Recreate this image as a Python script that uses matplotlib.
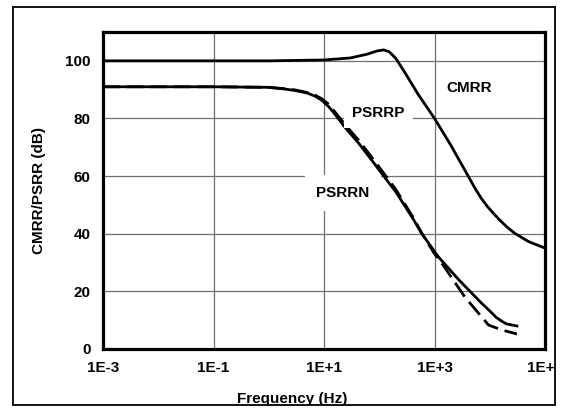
import matplotlib
matplotlib.use('Agg')
import matplotlib.pyplot as plt
from matplotlib.patches import Rectangle

plt.rcParams['font.family'] = ['Liberation Sans', 'DejaVu Sans']
plt.rcParams['font.weight'] = 'bold'

# CMRR curve (Hz, dB)
cmrr_freq = [1e-3, 1e-1, 1, 10, 30, 60, 90, 120, 150, 200, 300, 500, 1000,
             2000, 4200, 5500, 7000, 9000, 12000, 15000, 20000, 28000, 50000,
             100000]
cmrr_db = [100, 100, 100, 100.3, 101, 102.3, 103.4, 103.8, 103.2, 100.8, 95.5,
           88.5, 80, 70.5, 59.5, 55.5, 52.3, 49.5, 46.8, 44.8, 42.5, 40.2, 37.3,
           35]

# PSRR positive supply (solid)
psrrp_freq = [1e-3, 0.1, 1, 2, 3, 5, 7, 9, 12, 15, 18, 25, 33, 42, 70, 110, 200,
              420, 580, 1170, 2750, 7000, 10000, 13000, 16600, 20000, 31000]
psrrp_db = [91, 91, 90.8, 90.2, 89.7, 88.8, 87.7, 86.4, 84.2, 82, 80, 76.5, 73.8,
            71.5, 66, 61, 54.5, 44.8, 40.2, 32, 24, 16, 13.2, 11, 9.6, 8.7, 8]

# PSRR negative supply (dashed)
psrrn_freq = [1e-3, 0.1, 1, 2, 3, 5, 7, 9, 12, 15, 18, 25, 33, 42, 70, 110, 200,
              420, 580, 1000, 1350, 3550, 9500, 16600, 31000]
psrrn_db = [91, 91, 90.8, 90.3, 89.9, 89, 88, 86.9, 85, 82.8, 80.8, 77.5, 74.8,
            72.5, 67, 62, 55.3, 45.3, 40.4, 33, 29.8, 18, 8.3, 6.6, 5.2]

x_ticks = [1e-3, 1e-1, 1e1, 1e3, 1e5]
x_tick_labels = ['1E-3', '1E-1', '1E+1', '1E+3', '1E+5']
y_ticks = [0, 20, 40, 60, 80, 100]

fig = plt.figure(figsize=(5.66, 4.09), dpi=100)
ax = fig.add_axes([0.182, 0.1467, 0.781, 0.775])

# outer frame
frame = Rectangle((0.023, 0.0098), 0.9576, 0.9734, transform=fig.transFigure,
                  fill=False, edgecolor='black', linewidth=1.3, zorder=10)
fig.patches.append(frame)

ax.plot(cmrr_freq, cmrr_db, color='black', lw=2, zorder=3)
ax.plot(psrrp_freq, psrrp_db, color='black', lw=2, zorder=3)
ax.plot(psrrn_freq, psrrn_db, color='black', lw=2, dashes=(6, 2.5), zorder=3)

ax.set_xscale('log')
ax.set_xlim(1e-3, 1e5)
ax.set_ylim(0, 110)
ax.set_xticks(x_ticks)
ax.set_xticklabels(x_tick_labels)
ax.minorticks_off()
ax.set_yticks(y_ticks)
ax.tick_params(length=0, labelsize=11, pad=9)
ax.grid(True, color='#707070', lw=0.9, zorder=1)
ax.set_axisbelow(True)
for s in ax.spines.values():
    s.set_linewidth(2.3)

for lab in ax.get_xticklabels() + ax.get_yticklabels():
    lab.set_fontweight('bold')
    lab.set_clip_on(True)
    lab.set_clip_path(frame)

ax.text(4.3e3, 90.6, 'CMRR', fontsize=11, fontweight='bold', ha='center',
        va='center', bbox=dict(facecolor='white', edgecolor='none', pad=4), zorder=4)
ax.text(96, 82, 'PSRRP', fontsize=11, fontweight='bold', ha='center',
        va='center', bbox=dict(facecolor='white', edgecolor='none', pad=6), zorder=4)
ax.text(22, 54.2, 'PSRRN', fontsize=11, fontweight='bold', ha='center',
        va='center', bbox=dict(facecolor='white', edgecolor='none', pad=8), zorder=4)

ax.set_ylabel('CMRR/PSRR (dB)', fontsize=11, fontweight='bold', labelpad=14)
xl = fig.text(292 / 566, 1 - 392 / 409, 'Frequency (Hz)', fontsize=11,
              fontweight='bold', ha='center', va='top')
xl.set_clip_on(True)
xl.set_clip_path(frame)

fig.savefig('out.png', dpi=100)
